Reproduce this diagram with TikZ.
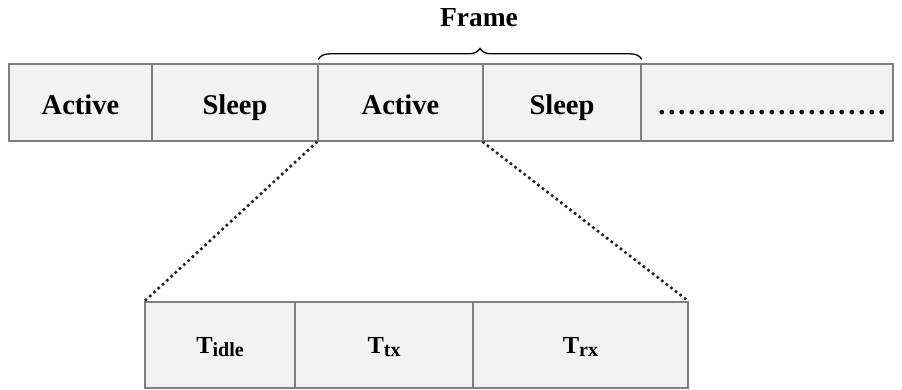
\documentclass[tikz,border=0pt]{standalone}
\usepackage{fontspec}
\setmainfont{Liberation Serif}
\usetikzlibrary{decorations.pathreplacing}
\definecolor{cellfill}{HTML}{F2F2F2}
\definecolor{cellline}{HTML}{7F7F7F}
\definecolor{dotcol}{HTML}{262626}
\tikzset{
  cell/.style={draw=cellline, fill=cellfill, line width=1.3pt, inner sep=0pt,
    minimum height=#1, text height=25pt, text depth=0pt,
    font=\fontsize{28.5}{32}\selectfont\bfseries},
  dotline/.style={draw=dotcol, line width=2.6pt, dash pattern=on 2.6pt off 3.2pt},
}
\newcommand{\Tsub}[1]{T\raisebox{-3pt}{\fontsize{20}{22}\selectfont #1}}
\newcommand{\onedot}{\hbox to 10pt{\hss.\hss}}
\begin{document}
\begin{tikzpicture}[x=1pt,y=1pt]
\useasboundingbox (0,0) rectangle (902,389);
% top bar
\node[cell=77pt, minimum width=143pt] (a1) at (80.5,286.5) {Active};
\node[cell=77pt, minimum width=166pt] (a2) at (235,286.5) {Sleep};
\node[cell=77pt, minimum width=165pt] (a3) at (400.5,286.5) {Active};
\node[cell=77pt, minimum width=158pt] (a4) at (562,286.5) {Sleep};
\node[cell=77pt, minimum width=252pt] (a5) at (767,286.5)
  {\makebox[250pt][l]{\hspace*{15pt}\foreach \i in {1,...,23}{\onedot}}};
% bottom bar
\tikzset{bcell/.style={cell=86pt, text height=16pt, text depth=0pt,
  font=\fontsize{24.5}{27}\selectfont\bfseries}}
\node[bcell, minimum width=150pt] (b1) at (220,44) {\Tsub{idle}};
\node[bcell, minimum width=178pt] (b2) at (384,44) {\Tsub{tx}};
\node[bcell, minimum width=215pt] (b3) at (580.5,44) {\Tsub{rx}};
% brace and label
\coordinate (bl) at ([xshift=1pt,yshift=4pt]a3.north west);
\coordinate (br) at ([yshift=4pt]a4.north east);
\draw[line width=1.3pt, decorate, decoration={brace, amplitude=11pt}] (bl) -- (br);
\node[font=\fontsize{27.5}{30}\selectfont\bfseries] (frame) at (479,371) {Frame};
% dotted connectors
\draw[dotline] (a3.south west) -- (b1.north west);
\draw[dotline] (a4.south west) -- (b3.north east);
\end{tikzpicture}
\end{document}
